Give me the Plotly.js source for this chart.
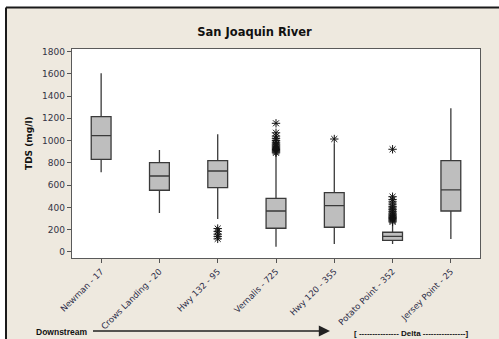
<!DOCTYPE html>
<html>
<head>
<meta charset="utf-8">
<script src="https://cdn.plot.ly/plotly-3.0.1.min.js"></script>
<style>html,body{margin:0;padding:0;background:#fff;}#chart{width:499px;height:339px;}</style>
</head>
<body>
<div id="chart"></div>
<script>
// Stations (category labels)
const stations = ["Newman - 17", "Crows Landing - 20", "Hwy 132 - 95", "Vernalis - 725", "Hwy 120 - 355", "Potato Point - 352", "Jersey Point - 25"];
// Box statistics (TDS mg/l)
const lowerWhisker = [715, 350, 296, 48, 72, 72, 117];
const q1Values     = [832, 554, 577, 213, 222, 105, 368];
const medianValues = [1044, 682, 727, 368, 416, 141, 557];
const q3Values     = [1215, 802, 820, 482, 532, 177, 820];
const upperWhisker = [1604, 916, 1057, 886, 976, 258, 1290];
// Outliers per station
const outHwy132 = [210, 185, 160, 140, 118];
const outVernalis = [1155, 1070, 1040, 1020, 1000, 985, 970, 960, 950, 940, 930, 920, 910, 900, 890];
const outHwy120 = [1014];
const outPotato = [922, 496, 470, 450, 430, 410, 395, 380, 365, 350, 340, 330, 320, 310, 300, 290, 280, 270];
const yTicks = [0, 200, 400, 600, 800, 1000, 1200, 1400, 1600, 1800];

const outX = [], outY = [];
[[2, outHwy132], [3, outVernalis], [4, outHwy120], [5, outPotato]].forEach(([i, arr]) => {
  arr.forEach(v => { outX.push(stations[i]); outY.push(v); });
});

const traces = [
  {
    type: 'box',
    x: stations,
    q1: q1Values,
    median: medianValues,
    q3: q3Values,
    lowerfence: lowerWhisker,
    upperfence: upperWhisker,
    boxpoints: false,
    width: 0.34,
    whiskerwidth: 0,
    fillcolor: '#BEBEBE',
    line: {color: '#3a3a3a', width: 1.3},
    showlegend: false,
    hoverinfo: 'skip'
  },
  {
    type: 'scatter',
    mode: 'markers',
    x: outX,
    y: outY,
    marker: {symbol: 'asterisk-open', size: 7, color: '#111', line: {color: '#111', width: 1}},
    showlegend: false,
    hoverinfo: 'skip'
  }
];

// Plot area: x 72..480, y 49..258
const PX = px => (px - 72) / 408;
const PY = py => (258 - py) / 209;

const layout = {
  width: 499, height: 339,
  margin: {l: 72, r: 19, t: 49, b: 81},
  paper_bgcolor: '#EEE9DF',
  plot_bgcolor: '#FFFFFF',
  font: {family: 'DejaVu Sans', size: 9, color: '#333344'},
  title: {
    text: '<b>San Joaquin River</b>',
    font: {family: 'DejaVu Sans', size: 11.5, color: '#111'},
    xref: 'paper', x: PX(254.5), xanchor: 'center',
    yref: 'container', y: 1 - 32 / 339, yanchor: 'middle'
  },
  xaxis: {
    type: 'category',
    categoryarray: stations,
    range: [-0.5, 6.5],
    tickangle: -45,
    ticks: 'outside', ticklen: 4, tickcolor: '#555', tickwidth: 1,
    tickfont: {family: 'DejaVu Sans', size: 8.5, color: '#2c2c48'},
    showline: true, linecolor: '#5a5a5a', linewidth: 1.3, mirror: true,
    showgrid: false, zeroline: false
  },
  yaxis: {
    range: [-54, 1822],
    tickvals: yTicks,
    ticktext: yTicks.map(String),
    ticks: 'outside', ticklen: 4, tickcolor: '#555', tickwidth: 1,
    tickfont: {family: 'DejaVu Sans', size: 9, color: '#333344'},
    showline: true, linecolor: '#5a5a5a', linewidth: 1.3, mirror: true,
    showgrid: false, zeroline: false
  },
  shapes: [
    {type: 'rect', xref: 'paper', yref: 'paper', x0: -1, x1: 2, y0: PY(7.5), y1: 2, fillcolor: '#FFFFFF', line: {width: 0}, layer: 'below'},
    {type: 'rect', xref: 'paper', yref: 'paper', x0: -1, x1: PX(6), y0: -1, y1: 2, fillcolor: '#FFFFFF', line: {width: 0}, layer: 'below'},
    {type: 'line', xref: 'paper', yref: 'paper', x0: PX(6), x1: 1.2, y0: PY(7.5), y1: PY(7.5), line: {color: '#1a1a1a', width: 2}},
    {type: 'line', xref: 'paper', yref: 'paper', x0: PX(6), x1: PX(6), y0: PY(7.5), y1: -1, line: {color: '#1a1a1a', width: 2}}
  ],
  annotations: [
    {
      text: '<b>TDS (mg/l)</b>', xref: 'paper', yref: 'paper', x: PX(29), y: PY(143),
      textangle: -90, showarrow: false, xanchor: 'center', yanchor: 'middle',
      font: {family: 'DejaVu Sans', size: 9, color: '#111'}
    },
    {
      text: '<b>Downstream</b>', xref: 'paper', yref: 'paper', x: PX(61), y: PY(332),
      showarrow: false, xanchor: 'center', yanchor: 'middle',
      font: {family: 'Liberation Sans', size: 8.5, color: '#111'}
    },
    {
      text: ' ', xref: 'paper', yref: 'paper', x: PX(330), y: PY(331),
      showarrow: true, ax: -240, ay: 0, arrowhead: 2, arrowsize: 1.4, arrowwidth: 1.6, arrowcolor: '#222'
    },
    {
      text: '<b>[ --------------- Delta ----------------]</b>', xref: 'paper', yref: 'paper', x: PX(411), y: PY(333),
      showarrow: false, xanchor: 'center', yanchor: 'middle',
      font: {family: 'Liberation Sans', size: 8, color: '#111'}
    }
  ]
};

Plotly.newPlot('chart', traces, layout, {displayModeBar: false, staticPlot: true});
</script>
</body>
</html>
